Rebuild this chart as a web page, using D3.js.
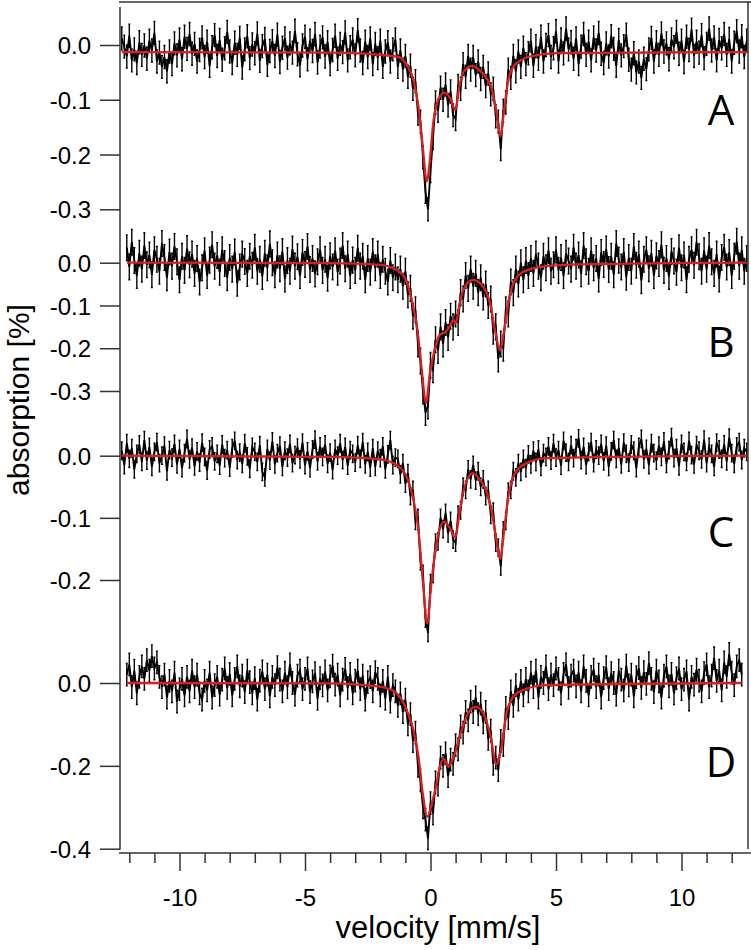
<!DOCTYPE html>
<html><head><meta charset="utf-8">
<script src="https://cdn.jsdelivr.net/npm/d3@7"></script>
<style>body{margin:0;background:#fff}</style>
</head><body><svg id="c" width="751" height="950"></svg>
<script>
// velocity grid (mm/s): start of each spectrum, channel step
const velStep = 0.1;
const velStartA = -12.3, velStartB = -12.1, velStartC = -12.3, velStartD = -12.1;

// measured absorption [%] per channel
const absA = [.012,-.003,-.021,.017,-.028,-.008,-.033,.005,-.018,-.001,
-.025,.008,-.01,.022,-.03,-.014,-.04,-.022,-.048,-.012,
-.035,.003,-.019,.01,-.026,.015,-.007,.02,-.016,.002,
-.03,-.009,.014,-.022,.006,-.038,-.004,.018,-.02,.009,
-.027,-.006,.024,-.012,-.033,.004,-.018,.013,-.041,-.008,
.016,-.024,.001,-.015,.021,-.029,-.002,.011,-.036,-.011,
.007,-.02,.019,-.031,-.005,.012,-.023,.003,-.014,.026,
-.017,-.037,-.001,.015,-.026,.008,-.011,.02,-.032,-.003,
.014,-.021,.005,-.035,-.009,.017,-.025,.002,-.013,.023,
-.028,-.004,.01,-.019,.027,-.01,-.033,.006,-.022,.012,
-.035,.002,-.024,.008,-.04,-.012,.005,-.03,-.008,.01,
-.04,-.01,-.045,-.02,-.058,-.038,-.08,-.066,-.125,-.14,
-.205,-.268,-.3,-.23,-.17,-.105,-.12,-.078,-.1,-.072,
-.11,-.085,-.128,-.135,-.075,-.08,-.035,-.058,-.02,-.045,
-.022,-.055,-.03,-.062,-.04,-.075,-.052,-.09,-.08,-.13,
-.14,-.19,-.12,-.105,-.045,-.06,-.02,-.048,-.012,-.04,
-.005,-.035,-.015,.008,-.038,-.002,-.025,.015,-.03,0,
.018,-.022,-.006,.025,-.03,.01,-.015,.03,-.008,.005,
-.025,.012,-.035,-.003,.02,-.018,.006,-.028,.014,-.01,
.022,-.016,-.033,.003,-.021,.016,-.007,-.038,.009,-.019,
-.002,.019,-.027,-.045,-.015,-.05,-.03,-.06,-.025,-.044,
-.008,.013,-.03,.005,-.018,.021,-.012,.003,-.026,.01,
-.004,.024,-.016,.008,-.031,.015,-.009,.028,-.02,.006,
-.014,.018,-.024,.002,.03,-.01,.014,-.028,.009,-.006,
.02,-.018,.011,-.03,.004,.025,-.012,.016,-.022,.008];

const absB = [.035,-.01,.048,.005,-.03,.022,-.015,.04,-.005,.018,
-.028,.03,.008,-.02,.045,.012,-.035,.025,-.008,.038,
.002,-.04,.015,-.018,.033,-.005,.02,-.025,.01,-.045,
-.012,.028,-.03,.006,.042,-.008,.017,-.022,.03,-.002,
-.035,.012,-.015,.025,-.048,-.01,.02,.003,-.025,.015,
-.006,.036,-.02,.008,-.032,.022,-.012,.044,0,-.028,
.018,-.014,.026,-.038,.005,-.02,.032,-.008,.014,-.03,
.024,-.004,.038,-.016,.01,-.026,.002,.03,-.018,.008,
-.036,.016,-.01,.028,-.022,.004,.04,-.014,.02,-.03,
.006,-.018,.034,-.008,.015,-.04,.01,-.022,.026,-.012,
.02,-.03,.008,-.02,-.045,.005,-.035,-.01,-.04,-.015,
-.055,-.02,-.075,-.06,-.125,-.11,-.19,-.23,-.3,-.35,
-.335,-.24,-.25,-.18,-.205,-.15,-.19,-.14,-.175,-.125,
-.15,-.12,-.14,-.07,-.085,-.03,-.06,-.015,-.055,-.025,
-.07,-.035,-.08,-.05,-.1,-.085,-.16,-.15,-.225,-.19,
-.2,-.11,-.12,-.045,-.07,-.015,-.05,0,-.04,.005,
-.03,.01,-.025,.02,-.008,-.035,.015,-.012,.028,-.02,
-.005,.03,-.018,.012,-.03,.022,.004,-.015,.036,-.008,
.018,-.026,.04,.002,-.02,.028,-.012,.01,-.038,.024,
-.004,.032,-.016,.015,-.028,.045,.006,-.01,.026,-.034,
.012,-.02,.038,-.006,.02,-.042,.008,.03,-.014,.022,
-.03,.016,-.002,.042,-.018,.01,-.032,.026,.004,-.022,
.035,-.012,.018,-.04,.008,.03,-.006,.048,.014,-.02,
.028,-.015,.04,.002,-.025,.02,-.038,.012,.036,-.01,
.024,-.03,.015,.05,-.008,.03,-.02,.01];

const absC = [.008,-.015,.02,-.005,.012,-.022,.003,.018,-.01,.025,
-.008,.014,-.018,.006,.022,-.012,0,.016,-.025,.009,
-.003,.019,-.014,.011,-.02,.004,.027,-.006,.013,-.017,
.007,-.011,.021,-.002,-.024,.01,.015,-.009,.003,-.016,
.018,-.004,.009,-.019,.012,.024,-.007,.005,-.013,.02,
-.001,-.021,.014,.006,-.01,.017,-.026,-.035,.011,-.008,
.023,-.014,.004,.016,-.018,.008,-.003,.019,-.012,.001,
.013,-.006,.021,-.015,.007,-.02,.01,.026,-.009,.015,
-.002,.018,-.013,.005,-.023,.011,0,.02,-.007,.014,
-.016,.009,.003,-.011,.017,-.005,.022,-.014,.006,-.019,
.012,-.018,.008,-.004,.015,-.022,.002,.025,-.015,-.003,
-.005,-.03,-.012,-.045,-.028,-.065,-.055,-.105,-.1,-.17,
-.19,-.262,-.285,-.205,-.19,-.14,-.138,-.1,-.118,-.092,
-.125,-.105,-.135,-.14,-.095,-.088,-.05,-.055,-.022,-.038,
-.015,-.04,-.025,-.05,-.038,-.065,-.055,-.095,-.09,-.14,
-.148,-.178,-.12,-.105,-.058,-.055,-.025,-.035,-.012,-.026,
-.005,-.02,.002,-.014,.008,-.01,.01,-.018,.004,-.002,
.015,-.008,.02,-.003,.009,-.016,.024,.005,-.01,.017,
-.004,.012,.028,-.007,.014,-.015,.006,.022,-.012,.01,
0,.019,-.009,.016,-.018,.007,.025,-.005,.013,-.014,
.021,.003,-.011,.018,.008,-.02,.014,.027,-.006,.011,
-.015,.02,.004,-.008,.016,-.002,.023,-.013,.009,.03,
-.004,.012,-.017,.019,.006,-.01,.024,.001,-.014,.017,
.008,-.006,.026,-.012,.014,.003,-.018,.021,.01,-.005,
.018,-.009,.029,.004,-.013,.015,.022,-.007,.012,.006];

const absD = [.02,.045,-.01,.03,-.025,.015,.04,.01,.055,.03,
.065,.035,.05,.015,-.01,.02,-.035,.005,-.02,.025,
-.045,-.015,.01,-.03,.015,-.02,.03,-.01,.02,-.025,
-.04,.005,-.018,.025,-.035,-.005,.015,-.028,.008,.035,
-.012,.022,-.03,.01,.04,-.008,.018,-.022,.03,.002,
-.025,.012,-.04,.006,.028,-.015,.02,-.032,.015,-.005,
.038,.008,-.02,.025,-.01,.045,0,-.028,.018,.03,
-.015,.01,.035,-.022,.004,.024,-.038,.012,-.006,.028,
-.018,.016,.042,-.004,.02,-.03,.008,.034,-.012,.022,
-.025,.006,.03,-.015,.018,-.04,.002,.014,-.02,.026,
.01,-.03,.005,-.038,.015,-.045,-.005,-.02,-.055,-.025,
-.07,-.04,-.1,-.075,-.14,-.12,-.2,-.235,-.3,-.33,
-.375,-.29,-.315,-.24,-.245,-.18,-.2,-.17,-.225,-.185,
-.195,-.15,-.16,-.105,-.12,-.07,-.09,-.045,-.07,-.035,
-.075,-.05,-.095,-.07,-.135,-.115,-.195,-.18,-.21,-.14,
-.15,-.06,-.085,-.02,-.055,-.005,-.04,.005,-.03,.01,
-.02,.025,-.01,.03,-.035,.015,0,.04,-.015,.02,
-.005,.035,.01,-.025,.022,.045,-.012,.018,.03,-.008,
.025,-.02,.04,.005,-.03,.015,.032,-.01,.02,-.035,
.012,.038,-.015,.024,0,-.028,.03,.008,-.018,.042,
-.006,.02,-.032,.014,.036,-.012,.026,-.002,.048,.01,
-.022,.03,.004,-.035,.018,.04,-.008,.022,-.025,.012,
.035,-.015,.008,.028,-.04,.015,-.004,.032,.006,-.02,
.024,.045,-.01,.018,.06,.005,.03,-.018,.05,.015,
.07,.025,-.005,.04,.055,.02];

// error bar half-lengths [%]
const errA = 0.021, errB = 0.03, errC = 0.014, errD = 0.027;

// fitted curves: velocity and absorption nodes
const fitA_v = [-12.3,-4,-1.35,-0.95,-0.68,-0.48,-0.31,-0.15,-0.02,0.11,0.31,0.55,0.78,0.99,1.15,1.31,1.68,1.97,2.21,2.43,2.63,2.79,2.92,3.1,3.36,3.96,5.0,12.6];
const fitA   = [-0.013,-0.014,-0.021,-0.036,-0.064,-0.113,-0.185,-0.249,-0.209,-0.142,-0.100,-0.087,-0.097,-0.119,-0.076,-0.049,-0.038,-0.047,-0.059,-0.079,-0.124,-0.167,-0.124,-0.064,-0.036,-0.021,-0.015,-0.013];
const fitB_v = [-12.1,-4,-2.01,-1.35,-1.01,-0.75,-0.52,-0.35,-0.18,-0.02,0.14,0.38,0.58,0.78,0.91,1.0,1.17,1.31,1.68,2.04,2.37,2.59,2.77,2.92,3.1,3.3,3.69,4.62,5.95,12.6];
const fitB   = [0,-0.001,-0.005,-0.017,-0.036,-0.087,-0.157,-0.25,-0.327,-0.257,-0.21,-0.168,-0.163,-0.148,-0.133,-0.142,-0.094,-0.063,-0.040,-0.052,-0.094,-0.164,-0.205,-0.164,-0.094,-0.048,-0.021,-0.008,-0.004,0];
const fitC_v = [-12.3,-4,-2.01,-1.35,-0.95,-0.68,-0.48,-0.31,-0.13,0.02,0.18,0.35,0.54,0.78,0.99,1.15,1.31,1.68,1.97,2.21,2.43,2.63,2.78,2.92,3.1,3.3,3.69,4.62,12.6];
const fitC   = [0,-0.002,-0.006,-0.015,-0.034,-0.071,-0.12,-0.2,-0.27,-0.211,-0.157,-0.12,-0.106,-0.117,-0.132,-0.093,-0.058,-0.028,-0.039,-0.055,-0.088,-0.136,-0.166,-0.125,-0.066,-0.034,-0.015,-0.004,0];
const fitD_v = [-12.1,-4,-2.01,-1.35,-0.95,-0.68,-0.48,-0.31,-0.13,0.05,0.22,0.41,0.54,0.71,0.97,1.24,1.5,1.8,2.1,2.37,2.63,2.83,3.03,3.3,3.69,4.62,12.4];
const fitD   = [0,-0.001,-0.009,-0.025,-0.065,-0.114,-0.178,-0.266,-0.323,-0.291,-0.25,-0.194,-0.184,-0.202,-0.17,-0.114,-0.073,-0.057,-0.073,-0.122,-0.196,-0.154,-0.073,-0.033,-0.017,-0.005,0];

// tick labels
const yTicksA = [0,-0.1,-0.2,-0.3];
const yTicksB = [0,-0.1,-0.2,-0.3];
const yTicksC = [0,-0.1,-0.2];
const yTicksD = [0,-0.2,-0.4];
const xTicksMajor = [-10,-5,0,5,10];
const xTicksMinor = [-12,-11,-9,-8,-7,-6,-4,-3,-2,-1,1,2,3,4,6,7,8,9,11,12];
const panelNames = ["A","B","C","D"];
const xTitle = "velocity [mm/s]";
const yTitle = "absorption [%]";

// ---------- drawing ----------
const svg = d3.select("#c");
const FONT = "'Liberation Sans', Arial, Helvetica, sans-serif";
const AXC = "#333";
const x = d3.scaleLinear().domain([-10, 10]).range([179.5, 681.5]);

const panels = [
  {vals: absA, v0: velStartA, err: errA, fv: fitA_v, f: fitA, ticks: yTicksA, dom: [0,-0.3], rng: [45,209.3], ly: 125},
  {vals: absB, v0: velStartB, err: errB, fv: fitB_v, f: fitB, ticks: yTicksB, dom: [0,-0.3], rng: [262.7,391], ly: 357},
  {vals: absC, v0: velStartC, err: errC, fv: fitC_v, f: fitC, ticks: yTicksC, dom: [0,-0.2], rng: [455.7,580], ly: 547},
  {vals: absD, v0: velStartD, err: errD, fv: fitD_v, f: fitD, ticks: yTicksD, dom: [0,-0.4], rng: [683,848.7], ly: 777}
];

panels.forEach((p, k) => {
  const y = d3.scaleLinear().domain(p.dom).range(p.rng);
  const pts = p.vals.map((a, i) => ({v: p.v0 + i * velStep, a}));
  // error bars
  let eb = "";
  pts.forEach(d => {
    const xx = x(d.v), y1 = y(d.a + p.err), y2 = y(d.a - p.err);
    eb += `M${xx},${y1}V${y2}M${xx-1},${y1}H${xx+1}M${xx-1},${y2}H${xx+1}`;
  });
  svg.append("path").attr("d", eb).attr("fill","none").attr("stroke","#000").attr("stroke-width",1.4);
  svg.append("path").datum(pts)
    .attr("d", d3.line().x(d => x(d.v)).y(d => y(d.a)))
    .attr("fill","none").attr("stroke","#000").attr("stroke-width",1.9);
  // fit
  const fp = p.fv.map((v, i) => ({v, a: p.f[i]}));
  svg.append("path").datum(fp)
    .attr("d", d3.line().x(d => x(d.v)).y(d => y(d.a)).curve(d3.curveMonotoneX))
    .attr("fill","none").attr("stroke","#dc1e1e").attr("stroke-width",2.3);
  // y axis ticks
  const g = svg.append("g").attr("transform","translate(120,0)")
    .call(d3.axisLeft(y).tickValues(p.ticks).tickSize(20).tickPadding(9).tickFormat(d => d.toFixed(1)));
  g.select(".domain").remove();
  g.selectAll("line").attr("stroke", AXC).attr("stroke-width",1.5);
  g.selectAll("text").attr("font-family", FONT).attr("font-size", 24).attr("fill","#000").attr("dy","0.36em");
  // panel letter
  svg.append("text").attr("x", 721).attr("y", p.ly).attr("text-anchor","middle")
    .attr("font-family","'Open Sans','Noto Sans',sans-serif").attr("font-size",42).attr("fill","#000")
    .text(panelNames[k]);
});

// frame lines
svg.append("line").attr("x1",120).attr("x2",120).attr("y1",7).attr("y2",849.5).attr("stroke",AXC).attr("stroke-width",1.5);
svg.append("line").attr("x1",119).attr("x2",751).attr("y1",2).attr("y2",2).attr("stroke",AXC).attr("stroke-width",1.5);
svg.append("line").attr("x1",748).attr("x2",748).attr("y1",2).attr("y2",849).attr("stroke",AXC).attr("stroke-width",1.5);
svg.append("line").attr("x1",119).attr("x2",751).attr("y1",853).attr("y2",853).attr("stroke",AXC).attr("stroke-width",1.5);

// bottom axis
const gx = svg.append("g").attr("transform","translate(0,853)")
  .call(d3.axisBottom(x).tickValues(xTicksMajor).tickSize(18).tickPadding(18).tickFormat(d => String(d)));
gx.select(".domain").remove();
gx.selectAll("line").attr("stroke",AXC).attr("stroke-width",1.5);
gx.selectAll("text").attr("font-family",FONT).attr("font-size",24).attr("fill","#000");
const gm = svg.append("g").attr("transform","translate(0,853)")
  .call(d3.axisBottom(x).tickValues(xTicksMinor).tickSize(10).tickFormat(""));
gm.select(".domain").remove();
gm.selectAll("line").attr("stroke",AXC).attr("stroke-width",1.5);

// titles
svg.append("text").attr("x",438).attr("y",938).attr("text-anchor","middle")
  .attr("font-family",FONT).attr("font-size",31).attr("fill","#000").text(xTitle);
svg.append("text").attr("transform","translate(29,400) rotate(-90)").attr("text-anchor","middle")
  .attr("font-family",FONT).attr("font-size",30).attr("fill","#000").text(yTitle);
</script></body></html>
